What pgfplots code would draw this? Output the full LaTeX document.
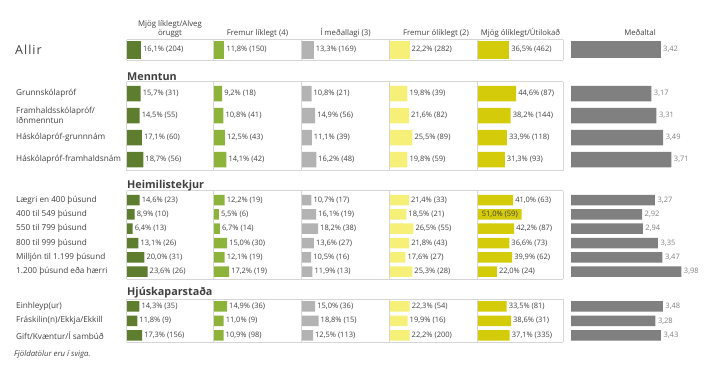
\documentclass[border=0pt]{standalone}
\usepackage{pgfplots}
\pgfplotsset{compat=1.18}
\usepackage{pgfplotstable}
\usepackage{fontspec}
\setmainfont{Open Sans}

\definecolor{cA}{HTML}{5E7D2E}
\definecolor{cB}{HTML}{8DB33A}
\definecolor{cC}{HTML}{B3B3B3}
\definecolor{cD}{HTML}{F6EF78}
\definecolor{cE}{HTML}{D4CB0B}
\definecolor{cM}{HTML}{808080}
\definecolor{txt}{HTML}{404040}
\definecolor{bord}{HTML}{D6D6D6}

% y = row centre (pixels from top), cK = percent, lK = label (percent and count), m = mean, ml = mean label
\pgfplotstableread{
y c1 l1 c2 l2 c3 l3 c4 l4 c5 l5 m ml
49.5 16.1 16,1\%~(204) 11.8 11,8\%~(150) 13.3 13,3\%~(169) 22.2 22,2\%~(282) 36.5 36,5\%~(462) 3.42 3,42
}\tA
\pgfplotstableread{
y c1 l1 c2 l2 c3 l3 c4 l4 c5 l5 m ml
93.5 15.7 15,7\%~(31) 9.2 9,2\%~(18) 10.8 10,8\%~(21) 19.8 19,8\%~(39) 44.6 44,6\%~(87) 3.17 3,17
115.5 14.5 14,5\%~(55) 10.8 10,8\%~(41) 14.9 14,9\%~(56) 21.6 21,6\%~(82) 38.2 38,2\%~(144) 3.31 3,31
137.5 17.1 17,1\%~(60) 12.5 12,5\%~(43) 11.1 11,1\%~(39) 25.5 25,5\%~(89) 33.9 33,9\%~(118) 3.49 3,49
159.5 18.7 18,7\%~(56) 14.1 14,1\%~(42) 16.2 16,2\%~(48) 19.8 19,8\%~(59) 31.3 31,3\%~(93) 3.71 3,71
}\tB
\pgfplotstableread{
y c1 l1 c2 l2 c3 l3 c4 l4 c5 l5 m ml
200.0 14.6 14,6\%~(23) 12.2 12,2\%~(19) 10.7 10,7\%~(17) 21.4 21,4\%~(33) 41.0 41,0\%~(63) 3.27 3,27
214.3 8.9 8,9\%~(10) 5.5 5,5\%~(6) 16.1 16,1\%~(19) 18.5 18,5\%~(21) 51.0 \hspace*{-45pt}51,0\%~(59) 2.92 2,92
228.6 6.4 6,4\%~(13) 6.7 6,7\%~(14) 18.2 18,2\%~(38) 26.5 26,5\%~(55) 42.2 42,2\%~(87) 2.94 2,94
243.0 13.1 13,1\%~(26) 15.0 15,0\%~(30) 13.6 13,6\%~(27) 21.8 21,8\%~(43) 36.6 36,6\%~(73) 3.35 3,35
257.3 20.0 20,0\%~(31) 12.1 12,1\%~(19) 10.5 10,5\%~(16) 17.6 17,6\%~(27) 39.9 39,9\%~(62) 3.47 3,47
271.6 23.6 23,6\%~(26) 17.2 17,2\%~(19) 11.9 11,9\%~(13) 25.3 25,3\%~(28) 22.0 22,0\%~(24) 3.98 3,98
}\tC
\pgfplotstableread{
y c1 l1 c2 l2 c3 l3 c4 l4 c5 l5 m ml
306.3 14.3 14,3\%~(35) 14.9 14,9\%~(36) 15.0 15,0\%~(36) 22.3 22,3\%~(54) 33.5 33,5\%~(81) 3.48 3,48
320.8 11.8 11,8\%~(9) 11.0 11,0\%~(9) 18.8 18,8\%~(15) 19.9 19,9\%~(16) 38.6 38,6\%~(31) 3.28 3,28
335.3 17.3 17,3\%~(156) 10.9 10,9\%~(98) 12.5 12,5\%~(113) 22.2 22,2\%~(200) 37.1 37,1\%~(335) 3.43 3,43
}\tD

\pgfplotsset{
  colax/.style={anchor=north west, scale only axis, height=370pt,
    ymin=0, ymax=370, y dir=reverse, hide axis, xbar, xmin=0, xmax=100,
    point meta=explicit symbolic, nodes near coords,
    every node near coord/.append style={font=\fontsize{7.5}{8}\selectfont, text=txt, inner sep=2pt, anchor=west}},
}

\newcommand\pctaxis[4]{%
\begin{axis}[colax, at={(#1pt,0pt)}, width=#2pt]
\addplot[fill=#4, draw=none, bar width=18pt, bar shift=0pt] table[x=c#3, y=y, meta=l#3]{\tA};
\addplot[fill=#4, draw=none, bar width=15.5pt, bar shift=0pt] table[x=c#3, y=y, meta=l#3]{\tB};
\addplot[fill=#4, draw=none, bar width=10.5pt, bar shift=0pt] table[x=c#3, y=y, meta=l#3]{\tC};
\addplot[fill=#4, draw=none, bar width=10.5pt, bar shift=0pt] table[x=c#3, y=y, meta=l#3]{\tD};
\end{axis}}

\begin{document}
\begin{tikzpicture}
\path[use as bounding box] (0pt,0pt) rectangle (713pt,-370pt);

% table frames
\foreach \ta/\tb in {39.5/60, 81.7/170.5, 190.5/279, 299/342}{
  \draw[bord, line width=0.8pt] (126.5pt,-\ta pt) -- (563pt,-\ta pt);
  \draw[bord, line width=0.8pt] (126.5pt,-\tb pt) -- (563pt,-\tb pt);
  \foreach \x in {126.5,213.5,301.5,389.5,477.5,563}
    \draw[bord, line width=0.8pt] (\x pt,-\ta pt) -- (\x pt,-\tb pt);
}

\pctaxis{127}{87}{1}{cA}
\pctaxis{214}{87.5}{2}{cB}
\pctaxis{302}{88}{3}{cC}
\pctaxis{390}{88}{4}{cD}
\pctaxis{478}{85.5}{5}{cE}

% mean column: scale starts at 1 (the lowest possible answer), 37 px per unit
\begin{axis}[anchor=north west, scale only axis, height=370pt,
  ymin=0, ymax=370, y dir=reverse, hide axis, xbar,
  at={(571pt,0pt)}, x=37pt, xmin=0, xmax=4,
  point meta=explicit symbolic, nodes near coords,
  every node near coord/.append style={font=\fontsize{7.5}{8}\selectfont, text=cM, inner sep=2.5pt, anchor=west}]
\addplot[fill=cM, draw=none, bar width=17pt, bar shift=0pt] table[x expr=\thisrow{m}-1, y=y, meta=ml]{\tA};
\addplot[fill=cM, draw=none, bar width=15.5pt, bar shift=0pt] table[x expr=\thisrow{m}-1, y=y, meta=ml]{\tB};
\addplot[fill=cM, draw=none, bar width=10.5pt, bar shift=0pt] table[x expr=\thisrow{m}-1, y=y, meta=ml]{\tC};
\addplot[fill=cM, draw=none, bar width=10.5pt, bar shift=0pt] table[x expr=\thisrow{m}-1, y=y, meta=ml]{\tD};
\end{axis}

% column headers
\begin{scope}[every node/.style={font=\fontsize{7.8}{9}\selectfont, text=txt, inner sep=0pt}]
\node[align=center] at (170pt,-28.5pt) {Mjög líklegt/Alveg\\öruggt};
\node at (257.5pt,-33pt) {Fremur líklegt (4)};
\node at (345.5pt,-33pt) {Í meðallagi (3)};
\node at (436pt,-33pt) {Fremur ólíklegt (2)};
\node at (520.5pt,-33pt) {Mjög ólíklegt/Útilokað};
\node at (640pt,-33pt) {Meðaltal};
\end{scope}

% row labels
\node[anchor=west, inner sep=0pt, text=txt, font=\fontsize{12.5}{14}\selectfont\addfontfeature{LetterSpace=8}] at (15pt,-49.5pt) {Allir};
\begin{scope}[every node/.style={anchor=west, inner sep=0pt, text=txt, font=\fontsize{8.2}{10}\selectfont}]
\node at (16pt,-93.5pt) {Grunnskólapróf};
\node[align=left] at (16pt,-115.5pt) {Framhaldsskólapróf/\\Iðnmenntun};
\node at (16pt,-137.5pt) {Háskólapróf-grunnnám};
\node at (16pt,-159.5pt) {Háskólapróf-framhaldsnám};
\node at (16pt,-200pt) {Lægri en 400 þúsund};
\node at (16pt,-214.3pt) {400 til 549 þúsund};
\node at (16pt,-228.6pt) {550 til 799 þúsund};
\node at (16pt,-243pt) {800 til 999 þúsund};
\node at (16pt,-257.3pt) {Milljón til 1.199 þúsund};
\node at (16pt,-271.6pt) {1.200 þúsund eða hærri};
\node at (16pt,-306.3pt) {Einhleyp(ur)};
\node at (16pt,-320.8pt) {Fráskilin(n)/Ekkja/Ekkill};
\node at (16pt,-335.3pt) {Gift/Kvæntur/Í sambúð};
\end{scope}

% section headings
\begin{scope}[every node/.style={anchor=west, inner sep=0pt, text=txt, font=\fontsize{10.8}{12}\selectfont\bfseries}]
\node at (127pt,-76.5pt) {Menntun};
\node at (127pt,-186pt) {Heimilistekjur};
\node at (127pt,-293pt) {Hjúskaparstaða};
\end{scope}

\node[anchor=west, inner sep=0pt, text=txt, font=\fontsize{7.8}{10}\selectfont\itshape] at (14pt,-354pt) {Fjöldatölur eru í sviga.};
\end{tikzpicture}
\end{document}
